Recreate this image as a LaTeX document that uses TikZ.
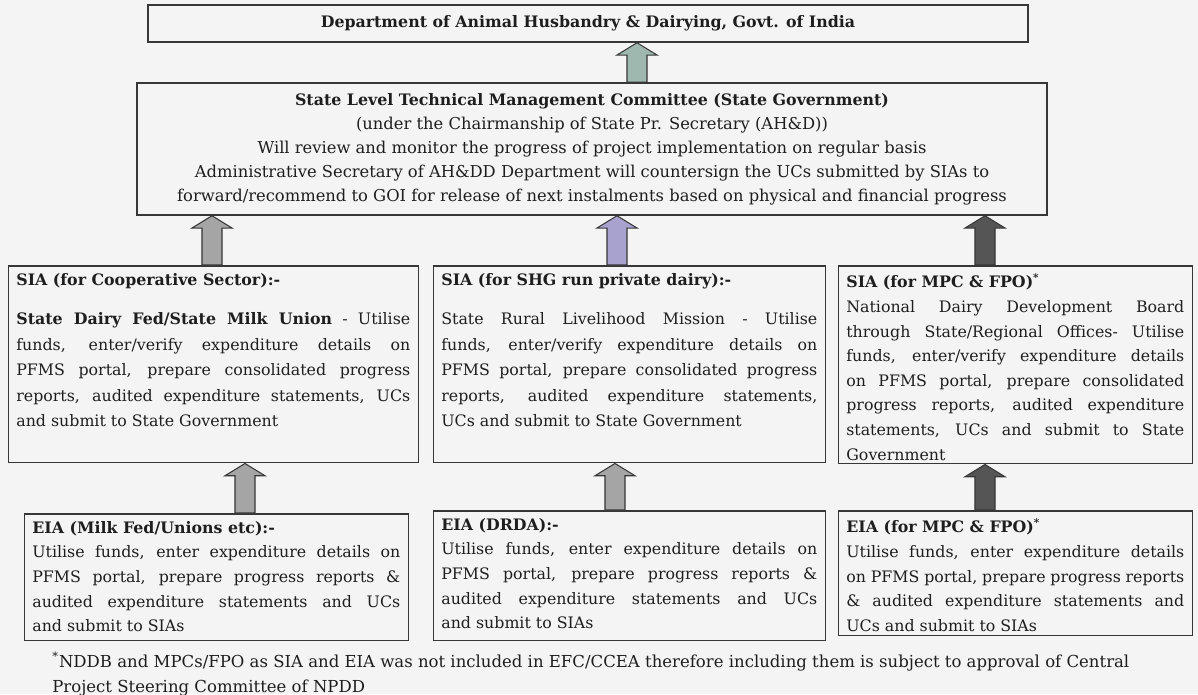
\documentclass[tikz,border=0pt]{standalone}
\usepackage{fontspec}
\setmainfont{DejaVu Serif}
\usetikzlibrary{calc}

\definecolor{pagebg}{RGB}{244,244,244}
\definecolor{edge}{RGB}{55,55,55}
\definecolor{ink}{RGB}{30,30,30}
\definecolor{arrteal}{RGB}{158,184,176}
\definecolor{arrgray}{RGB}{165,165,165}
\definecolor{arrlilac}{RGB}{168,162,206}
\definecolor{arrdark}{RGB}{85,85,85}

\tikzset{
  box/.style={draw=edge, line width=0.85pt, fill=pagebg, inner sep=0pt},
  boxtext/.style={anchor=north west, inner xsep=0.16cm, inner ysep=0.16cm, align=justify,
    text=ink, font=\fontsize{9}{14}\selectfont},
  blockarr/.style={draw=edge, line width=0.6pt},
}

\begin{document}
\begin{tikzpicture}[x=0.02cm, y=-0.02cm]
\path[use as bounding box, fill=pagebg] (0,0) rectangle (1198,694);

% top level
\node[box, minimum width=17.6cm, minimum height=0.74cm, text=ink,
  font=\bfseries\fontsize{9}{11}\selectfont] (dahd) at (588,23.5)
  {Department of Animal Husbandry \& Dairying, Govt. of India};
\node[box, minimum width=18.2cm, minimum height=2.64cm, align=center, text=ink,
  font=\fontsize{9.3}{13.7}\selectfont] (sltmc) at (592,149)
  {{\fontsize{9}{13.7}\selectfont\bfseries State Level Technical Management Committee (State Government)}\\
   (under the Chairmanship of State Pr. Secretary (AH\&D))\\
   Will review and monitor the progress of project implementation on regular basis\\
   Administrative Secretary of AH\&DD Department will countersign the UCs submitted by SIAs to\\
   forward/recommend to GOI for release of next instalments based on physical and financial progress};

% SIA row
\node[box, anchor=north west, minimum width=8.2cm, minimum height=3.94cm] (siacoop) at (8,265) {};
\node[boxtext, text width=7.88cm, font=\fontsize{9}{14.5}\selectfont] at (siacoop.north west)
  {\textbf{SIA (for Cooperative Sector):-}\par\vspace{8pt}
   \textbf{State Dairy Fed/State Milk Union} - Utilise\linebreak
   funds, enter/verify expenditure details on\linebreak
   PFMS portal, prepare consolidated progress\linebreak
   reports, audited expenditure statements, UCs\linebreak
   and submit to State Government};
\node[box, anchor=north west, minimum width=7.84cm, minimum height=3.94cm] (siashg) at (433,265) {};
\node[boxtext, text width=7.52cm, font=\fontsize{9}{14.5}\selectfont] at (siashg.north west)
  {\textbf{SIA (for SHG run private dairy):-}\par\vspace{8pt}
   State Rural Livelihood Mission - Utilise\linebreak
   funds, enter/verify expenditure details on\linebreak
   PFMS portal, prepare consolidated progress\linebreak
   reports, audited expenditure statements,\linebreak
   UCs and submit to State Government};
\node[box, anchor=north west, minimum width=7.08cm, minimum height=3.96cm] (siampc) at (838,265) {};
\node[boxtext, text width=6.76cm] at (siampc.north west)
  {\textbf{SIA (for MPC \& FPO)\textsuperscript{*}}\\
   National Dairy Development Board\linebreak
   through State/Regional Offices- Utilise\linebreak
   funds, enter/verify expenditure details\linebreak
   on PFMS portal, prepare consolidated\linebreak
   progress reports, audited expenditure\linebreak
   statements, UCs and submit to State\linebreak
   Government};

% EIA row
\node[box, anchor=north west, minimum width=7.68cm, minimum height=2.54cm] (eiacoop) at (24,513) {};
\node[boxtext, text width=7.36cm] at (eiacoop.north west)
  {\textbf{EIA (Milk Fed/Unions etc):-}\\
   Utilise funds, enter expenditure details on\linebreak
   PFMS portal, prepare progress reports \&\linebreak
   audited expenditure statements and UCs\linebreak
   and submit to SIAs};
\node[box, anchor=north west, minimum width=7.84cm, minimum height=2.6cm] (eiashg) at (433,510) {};
\node[boxtext, text width=7.52cm] at (eiashg.north west)
  {\textbf{EIA (DRDA):-}\\
   Utilise funds, enter expenditure details on\linebreak
   PFMS portal, prepare progress reports \&\linebreak
   audited expenditure statements and UCs\linebreak
   and submit to SIAs};
\node[box, anchor=north west, minimum width=7.08cm, minimum height=2.5cm] (eiampc) at (838,510) {};
\node[boxtext, text width=6.76cm] at (eiampc.north west)
  {\textbf{EIA (for MPC \& FPO)\textsuperscript{*}}\\
   Utilise funds, enter expenditure details\linebreak
   on PFMS portal, prepare progress reports\linebreak
   \& audited expenditure statements and\linebreak
   UCs and submit to SIAs};

% footnote
\node[anchor=north west, align=left, text=ink, inner sep=0pt,
  font=\fontsize{9.4}{14}\selectfont] (note) at (52,652)
  {\textsuperscript{*}NDDB and MPCs/FPO as SIA and EIA was not included in EFC/CCEA therefore including them is subject to approval of Central\\
   Project Steering Committee of NPDD};

% block arrows, lower box -> upper box
\foreach \lo/\hi/\xx/\col in {sltmc/dahd/637/arrteal, siacoop/sltmc/212/arrgray,
    siashg/sltmc/617/arrlilac, siampc/sltmc/985/arrdark, eiacoop/siacoop/245/arrgray,
    eiashg/siashg/615/arrgray, eiampc/siampc/985/arrdark}
  \draw[blockarr, fill=\col] let \p0=(\xx,0), \p1=(\lo.north), \p2=(\hi.south) in
    (\x0-5.7pt,\y1) -- (\x0-5.7pt,\y2-7pt) -- (\x0-11.4pt,\y2-7pt) -- (\x0,\y2)
    -- (\x0+11.4pt,\y2-7pt) -- (\x0+5.7pt,\y2-7pt) -- (\x0+5.7pt,\y1) -- cycle;
\end{tikzpicture}
\end{document}
